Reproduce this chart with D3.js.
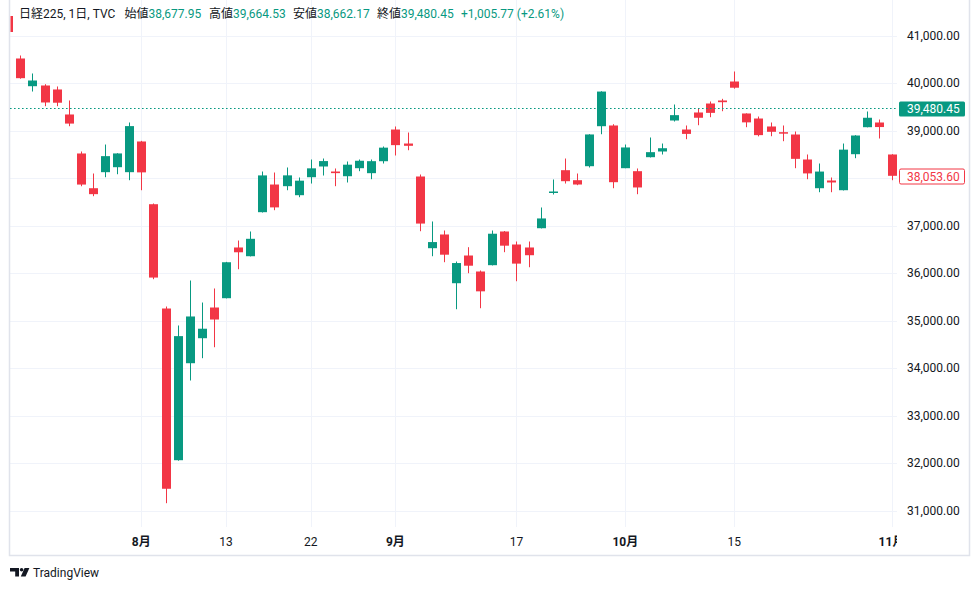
<!DOCTYPE html>
<html><head><meta charset="utf-8">
<script src="https://cdn.jsdelivr.net/npm/d3@7"></script>
<style>
body{margin:0;background:#fff;}
svg{display:block;}
text{font-family:Roboto,"Noto Sans CJK JP",sans-serif;}
</style>
</head><body>
<svg id="c" width="980" height="589"></svg>
<script>
// ---- data (Nikkei 225, daily, TVC) ----
const dates = ["07-18","07-19","07-22","07-23","07-24","07-25","07-26","07-29","07-30","07-31",
"08-01","08-02","08-05","08-06","08-07","08-08","08-09","08-13","08-14","08-15","08-16","08-19","08-20","08-21","08-22","08-23","08-26","08-27","08-28","08-29","08-30",
"09-02","09-03","09-04","09-05","09-06","09-09","09-10","09-11","09-12","09-13","09-17","09-18","09-19","09-20","09-24","09-25","09-26","09-27","09-30",
"10-01","10-02","10-03","10-04","10-07","10-08","10-09","10-10","10-11","10-15","10-16","10-17","10-18","10-21","10-22","10-23","10-24","10-25","10-28","10-29","10-30","10-31",
"11-01"];
const openV = [40526,39942,39957,39873,39346,38524,37792,38130,38235,38130,
38777,37455,35257,32060,34104,34631,35278,35474,36543,36359,37287,37870,37835,37645,38024,38250,38144,38045,38214,38109,38361,
39029,38734,38039,36528,36817,35790,36374,36037,36170,36880,36606,36543,36949,37702,38172,37961,38256,39099,39114,
38214,38151,38446,38566,39219,39029,39388,39577,39641,40041,39367,39261,39093,38973,38924,38397,37792,37955,37750,38509,39078,39177,
38503];
const highV = [40589,40210,39984,39936,39641,38566,38102,38713,38530,39177,
38790,37470,35299,34899,35847,35383,35679,36240,36690,36880,38144,38123,38229,38018,38397,38418,38208,38355,38397,38397,38671,
39093,38966,38081,37091,36901,36247,36549,36058,36901,36890,36669,36669,37386,37976,38418,38102,38930,39835,39141,
38713,38208,38861,38734,39556,39114,39472,39620,39676,40252,39370,39303,39177,39114,38987,38503,38313,38018,38734,38910,39409,39240,
38510];
const lowV = [40100,39830,39521,39521,39099,37834,37624,38024,38087,37961,
37750,35875,31154,32050,33740,34210,34441,35470,36085,36355,37280,37329,37750,37603,37891,38060,37835,37913,38151,37982,38313,
38482,38593,36886,36359,36233,35242,36001,35263,36165,36444,35832,36127,36945,37660,37891,37856,38229,38930,37792,
38214,37666,38440,38503,39198,38825,39120,39289,39415,39890,39078,38885,38888,38783,38214,37982,37708,37708,37745,38425,39075,38840,
37961];
const closeV = [40111,40062,39599,39594,39154,37869,37667,38468,38525,39101,
38126,35909,31458,34675,35089,34831,35025,36232,36442,36726,38062,37388,38063,37951,38211,38364,38110,38288,38371,38362,38647,
38700,38686,37047,36657,36391,36215,36159,35619,36833,36581,36203,36380,37155,37723,37940,37870,38925,39829,37919,
38651,37808,38552,38635,39332,38937,39277,39380,39605,39910,39180,38911,38981,38954,38411,38104,38143,37913,38605,38903,39277,39081,
38053.6];

const xTickDates  = ["08-01","08-13","08-22","09-02","09-17","10-01","10-15","11-01"];
const xTickLabels = ["8月","13","22","9月","17","10月","15","11月"];
const xTickMonth  = [true,false,false,true,false,true,false,true];
const yTicks = [31000,32000,33000,34000,35000,36000,37000,38000,39000,40000,41000];

const titleText = "日経225, 1日, TVC";
const legendLabels = ["始値","高値","安値","終値"];
const legendValues = [38677.95, 39664.53, 38662.17, 39480.45];
const changeAbs = 1005.77;
const changePct = 2.61;
const lastPrice = 39480.45;
const visibleClose = 38053.60;

// ---- drawing ----
const GREEN = "#089981", RED = "#F23645", TXT = "#131722", GRID = "#f0f3fa";
const svg = d3.select("#c");
const plotL = 10, plotR = 897, plotB = 527, frameB = 555.5, frameR = 969.5;

const x = d3.scalePoint().domain(dates).range([20.3, 891.5]);
const y = d3.scaleLinear().domain([31000, 41000]).range([510.5, 36]);
const fmt = d3.format(",.2f");

svg.append("defs").append("clipPath").attr("id","plotclip")
  .append("rect").attr("x",plotL).attr("y",0).attr("width",plotR-plotL).attr("height",plotB);
svg.append("defs").append("clipPath").attr("id","timeclip")
  .append("rect").attr("x",plotL).attr("y",plotB).attr("width",plotR-plotL).attr("height",frameB-plotB);

// grid
const grid = svg.append("g").attr("clip-path","url(#plotclip)");
grid.selectAll("line.h").data(yTicks).join("line")
  .attr("x1",plotL).attr("x2",plotR)
  .attr("y1",d=>Math.round(y(d))+0.5).attr("y2",d=>Math.round(y(d))+0.5)
  .attr("stroke",GRID).attr("stroke-width",1);
grid.selectAll("line.v").data(xTickDates).join("line")
  .attr("x1",d=>Math.round(x(d))+0.5).attr("x2",d=>Math.round(x(d))+0.5)
  .attr("y1",0).attr("y2",plotB)
  .attr("stroke",GRID).attr("stroke-width",1);

// frame
svg.append("path")
  .attr("d",`M${plotL-0.5},0 V${frameB} H${frameR} V0`)
  .attr("fill","none").attr("stroke","#e0e3eb").attr("stroke-width",1.5);

// candles
const idx = d3.range(dates.length);
const cg = svg.append("g").attr("clip-path","url(#plotclip)");
const cand = cg.selectAll("g.c").data(idx).join("g");
const col = i => closeV[i] >= openV[i] ? GREEN : RED;
cand.append("rect")
  .attr("x",i=>Math.round(x(dates[i]))+0.5-0.5).attr("width",1)
  .attr("y",i=>y(highV[i])).attr("height",i=>Math.max(1,y(lowV[i])-y(highV[i])))
  .attr("fill",col);
cand.append("rect")
  .attr("x",i=>Math.round(x(dates[i]))-4).attr("width",9)
  .attr("y",i=>y(Math.max(openV[i],closeV[i])))
  .attr("height",i=>Math.max(1.5,Math.abs(y(openV[i])-y(closeV[i]))))
  .attr("fill",col);

// last price line (dotted)
svg.append("line")
  .attr("x1",plotL).attr("x2",plotR)
  .attr("y1",Math.round(y(lastPrice))+0.5).attr("y2",Math.round(y(lastPrice))+0.5)
  .attr("stroke",GREEN).attr("stroke-width",1.2).attr("stroke-dasharray","1.6,2.4");

// price axis labels
svg.append("g").selectAll("text").data(yTicks).join("text")
  .attr("x",907).attr("y",d=>y(d)+4)
  .attr("font-size",12).attr("fill",TXT).text(d=>fmt(d));

// last price label (green)
const lpY = y(lastPrice);
svg.append("rect").attr("x",899).attr("y",lpY-6.5).attr("width",66).attr("height",15)
  .attr("rx",1.5).attr("fill",GREEN);
svg.append("text").attr("x",907).attr("y",lpY+5).attr("font-size",12).attr("fill","#fff").text(fmt(lastPrice));
// visible close label (red outline)
const vcY = y(visibleClose);
svg.append("rect").attr("x",899.5).attr("y",vcY-6.8).attr("width",65).attr("height",15)
  .attr("rx",1.5).attr("fill","#fff").attr("stroke",RED).attr("stroke-width",1);
svg.append("text").attr("x",907).attr("y",vcY+4.8).attr("font-size",12).attr("fill",RED).text(fmt(visibleClose));

// time axis labels
svg.append("g").attr("clip-path","url(#timeclip)")
  .selectAll("text").data(xTickDates).join("text")
  .attr("x",d=>x(d)).attr("y",546).attr("text-anchor","middle")
  .attr("font-size",12).attr("fill",TXT)
  .attr("font-weight",(d,i)=>xTickMonth[i]?700:400)
  .text((d,i)=>xTickLabels[i]);

// legend header
svg.append("rect").attr("x",10.5).attr("y",16).attr("width",2.5).attr("height",16).attr("fill",RED);
const hdr = svg.append("g").attr("font-size",12);
hdr.append("text").attr("x",19).attr("y",18).attr("fill",TXT).text(titleText);
const legX = [124.5, 209, 293, 377];
legendLabels.forEach((lab,i)=>{
  const t = hdr.append("text").attr("x",legX[i]).attr("y",18);
  t.append("tspan").attr("fill",TXT).text(lab);
  t.append("tspan").attr("fill",GREEN).text(fmt(legendValues[i]));
});
hdr.append("text").attr("x",461).attr("y",18).attr("fill",GREEN)
  .text(`+${fmt(changeAbs)} (+${changePct.toFixed(2)}%)`);

// TradingView logo
const lg = svg.append("g").attr("fill",TXT);
lg.append("path").attr("d","M10,568 H19 V576.5 H15.2 V571.4 H10 Z");
lg.append("circle").attr("cx",21.6).attr("cy",569.8).attr("r",1.8);
lg.append("path").attr("d","M24.6,568 H29.4 L25.6,576.5 H20.8 Z");
svg.append("text").attr("x",33).attr("y",576.5).attr("font-size",12).attr("fill",TXT).text("TradingView");
</script>
</body></html>
